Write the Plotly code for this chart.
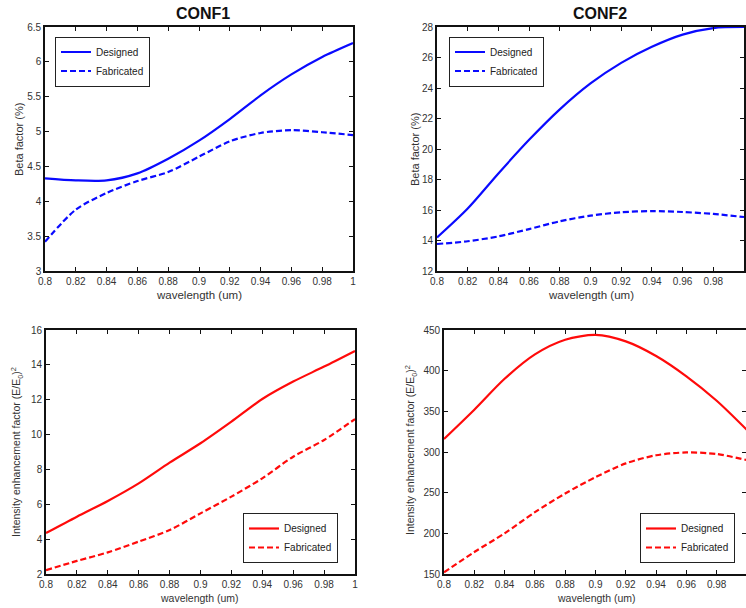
import plotly.graph_objects as go

# ---------------- data ----------------
wavelength = [0.80, 0.82, 0.84, 0.86, 0.88, 0.90, 0.92, 0.94, 0.96, 0.98, 1.00]

conf1_beta_designed = [4.33, 4.30, 4.30, 4.40, 4.61, 4.87, 5.18, 5.52, 5.82, 6.07, 6.27]
conf1_beta_fabricated = [3.42, 3.88, 4.12, 4.29, 4.42, 4.64, 4.86, 4.98, 5.02, 4.99, 4.95]

conf2_beta_designed = [14.2, 16.1, 18.4, 20.6, 22.6, 24.3, 25.65, 26.7, 27.5, 27.93, 28.0]
conf2_beta_fabricated = [13.77, 13.95, 14.27, 14.75, 15.26, 15.63, 15.85, 15.93, 15.87, 15.74, 15.54]

conf1_int_designed = [4.35, 5.29, 6.19, 7.2, 8.39, 9.5, 10.74, 12.04, 13.04, 13.9, 14.8]
conf1_int_fabricated = [2.22, 2.75, 3.24, 3.86, 4.52, 5.48, 6.44, 7.49, 8.73, 9.69, 10.89]

conf2_int_designed = [316, 352, 390, 420, 438, 444, 436, 418, 393, 363, 327]
conf2_int_fabricated = [152, 177, 200, 226, 249, 269, 286, 296, 299.5, 297.5, 290]

x_tickvals = [0.80, 0.82, 0.84, 0.86, 0.88, 0.90, 0.92, 0.94, 0.96, 0.98, 1.00]
x_ticktext = ["0.8", "0.82", "0.84", "0.86", "0.88", "0.9", "0.92", "0.94", "0.96", "0.98", "1"]

y1_tickvals = [3, 3.5, 4, 4.5, 5, 5.5, 6, 6.5]
y1_ticktext = ["3", "3.5", "4", "4.5", "5", "5.5", "6", "6.5"]
y2_tickvals = [12, 14, 16, 18, 20, 22, 24, 26, 28]
y3_tickvals = [2, 4, 6, 8, 10, 12, 14, 16]
y4_tickvals = [150, 200, 250, 300, 350, 400, 450]

series_names = ["Designed", "Fabricated"]
titles = ["CONF1", "CONF2"]
x_title = "wavelength (um)"
beta_title = "Beta factor (%)"
int_title = "Intensity enhancement factor (E/E<sub>0</sub>)<sup>2</sup>"

# ---------------- layout helpers ----------------
W, H = 746, 608
BLUE = "#0a0aff"
RED = "#ff0a0a"
FONT = "Liberation Sans, Arial, Helvetica, sans-serif"


def px_x(p):
    return p / W


def px_y(p):
    return 1 - p / H


fig = go.Figure()

panels = [
    ("x", "y", "legend", conf1_beta_designed, conf1_beta_fabricated, BLUE, (45, 353), (27, 271), [3, 6.5], y1_tickvals, y1_ticktext),
    ("x2", "y2", "legend2", conf2_beta_designed, conf2_beta_fabricated, BLUE, (437, 744), (27, 271), [12, 28], y2_tickvals, [str(v) for v in y2_tickvals]),
    ("x3", "y3", "legend3", conf1_int_designed, conf1_int_fabricated, RED, (46, 355), (330, 574), [2, 16], y3_tickvals, [str(v) for v in y3_tickvals]),
    ("x4", "y4", "legend4", conf2_int_designed, conf2_int_fabricated, RED, (444, 747), (330, 574), [150, 450], y4_tickvals, [str(v) for v in y4_tickvals]),
]

legend_pos = [(55, 61.5), (449, 61.5), (243, 538), (640, 538)]

for i, (xa, ya, lg, d, f, col, dx, dy, yr, ytv, ytt) in enumerate(panels):
    fig.add_trace(go.Scatter(x=wavelength, y=d, mode="lines", name=series_names[0],
                             line=dict(color=col, width=2.2, shape="spline", smoothing=0.8),
                             xaxis=xa, yaxis=ya, legend=lg))
    fig.add_trace(go.Scatter(x=wavelength, y=f, mode="lines", name=series_names[1],
                             line=dict(color=col, width=2.2, dash="6px,3px", shape="spline", smoothing=0.8),
                             xaxis=xa, yaxis=ya, legend=lg))
    suffix = "" if i == 0 else str(i + 1)
    common = dict(showline=True, linecolor="#111", linewidth=1.6, mirror="ticks",
                  ticks="inside", ticklen=4, tickcolor="#111", tickwidth=1,
                  showgrid=False, zeroline=False, automargin=False,
                  tickfont=dict(family=FONT, size=10, color="#333"))
    fig.layout["xaxis" + suffix] = dict(
        domain=[px_x(dx[0]), min(1.0, px_x(dx[1]))], anchor="y" + suffix,
        range=[0.8, 1.0 if dx[1] <= W else 0.8 + 0.2 * (W - dx[0]) / (dx[1] - dx[0])],
        tickvals=x_tickvals, ticktext=x_ticktext, **common)
    fig.layout["yaxis" + suffix] = dict(
        domain=[px_y(dy[1]), px_y(dy[0])], anchor="x" + suffix,
        range=yr, tickvals=ytv, ticktext=ytt, **common)
    lx, lyc = legend_pos[i]
    fig.layout[lg] = dict(x=px_x(lx), y=px_y(lyc), xanchor="left", yanchor="middle",
                          xref="paper", yref="paper",
                          bgcolor="white", bordercolor="#222", borderwidth=1,
                          font=dict(family=FONT, size=10, color="#222"),
                          tracegroupgap=0, itemwidth=30)

annotations = []


def ann(text, cx, cy, size, color="#333", angle=0):
    annotations.append(dict(text=text, x=px_x(cx), y=px_y(cy), xref="paper", yref="paper",
                            xanchor="center", yanchor="middle", showarrow=False, textangle=angle,
                            font=dict(family=FONT, size=size, color=color)))


ann("<b>" + titles[0] + "</b>", 203, 13, 16, "#111")
ann("<b>" + titles[1] + "</b>", 600, 13, 16, "#111")
for cx, cy, sz in [(199, 295, 11.5), (591, 295, 11.5), (199, 598, 10.5), (596, 598, 10.5)]:
    ann(x_title, cx, cy, sz)
for cx, cy in [(19, 140), (415, 150)]:
    ann(beta_title, cx, cy, 11, angle=-90)
for cx, cy in [(17, 452), (411, 450)]:
    ann(int_title, cx, cy, 10.5, angle=-90)

fig.update_layout(width=W, height=H, margin=dict(l=0, r=0, t=0, b=0, pad=0, autoexpand=False),
                  paper_bgcolor="white", plot_bgcolor="white",
                  annotations=annotations, showlegend=True)

fig.write_html("out.html", config={"displayModeBar": False},
               post_script="document.body.style.margin='0px';document.body.style.overflow='hidden';")
